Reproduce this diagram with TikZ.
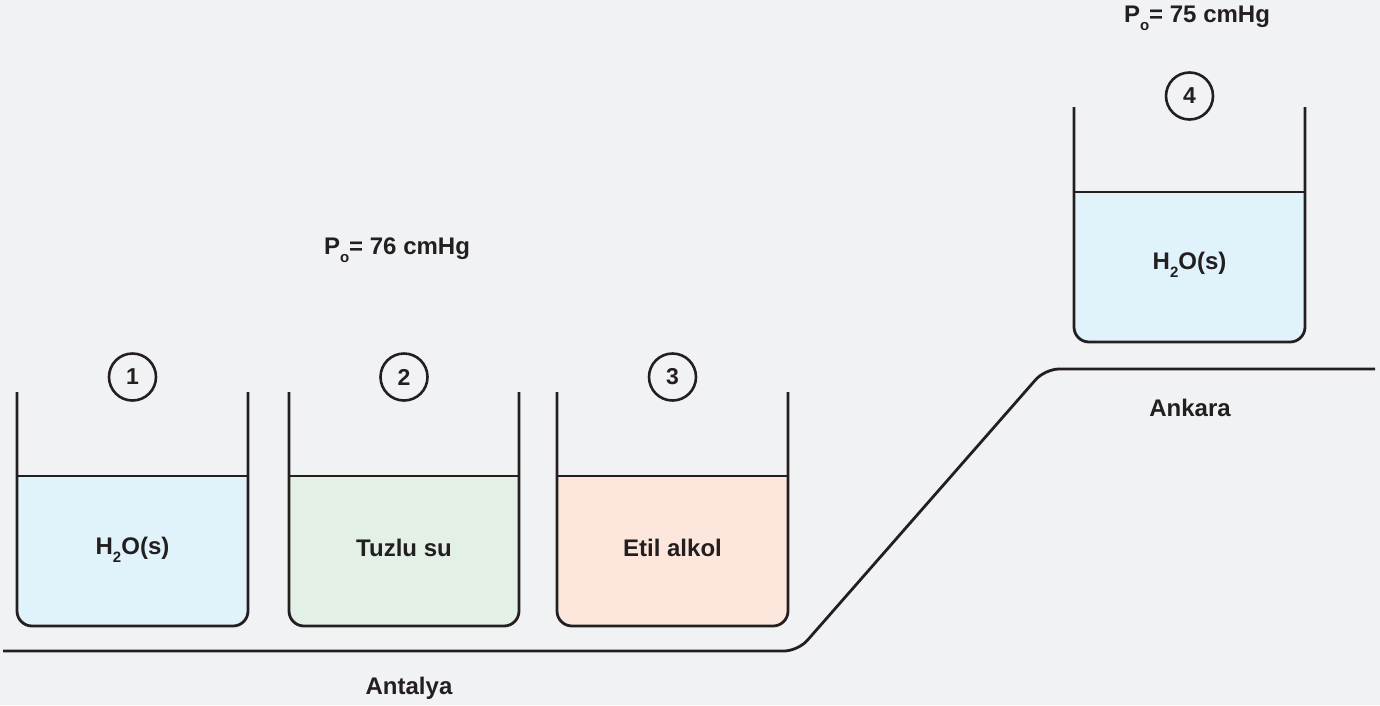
\documentclass[tikz,border=0pt]{standalone}
\usepackage{fontspec}
\setmainfont{Liberation Sans}
\definecolor{bg}{HTML}{F1F2F4}
\definecolor{lc}{HTML}{231F20}
\definecolor{waterc}{HTML}{E0F2FA}
\definecolor{saltc}{HTML}{E2F0E6}
\definecolor{alcc}{HTML}{FDE7DD}
\newcommand\subo{\raisebox{-8pt}{\fontsize{15}{15}\selectfont o}}
\newcommand\subtwo{\raisebox{-8pt}{\fontsize{15}{15}\selectfont 2}}
\newcommand\mybeaker[6]{%
  \fill[#6] (#1,#4) {[rounded corners=15] -- (#1,#5) -- (#2,#5)} -- (#2,#4) -- cycle;
  \draw[bline, rounded corners=15] (#1,#3) -- (#1,#5) -- (#2,#5) -- (#2,#3);
  \draw[bline] (#1,#4) -- (#2,#4);
}
\tikzset{
  bline/.style={draw=lc, line width=2.8pt},
  lbl/.style={font=\fontsize{24}{29}\selectfont\bfseries, text=lc, inner sep=0pt},
  num/.style={circle, draw=lc, line width=2.6pt, minimum size=47pt, inner sep=0pt, font=\fontsize{23}{27}\selectfont\bfseries, text=lc},
}
\begin{document}
\begin{tikzpicture}[x=1pt,y=-1pt]
\fill[bg] (0,0) rectangle (1380,705);
\useasboundingbox (0,0) rectangle (1380,705);

\mybeaker{17}{248}{392}{476}{626}{waterc}
\mybeaker{289}{519}{392}{476}{626}{saltc}
\mybeaker{557}{788}{392}{476}{626}{alcc}
\mybeaker{1074}{1305}{107}{192}{342}{waterc}

\node[num] (n1) at (132.5,377) {1};
\node[num] (n2) at (404,377) {2};
\node[num] (n3) at (672.5,377) {3};
\node[num] (n4) at (1189.5,96) {4};

\node[lbl] (l1) at (132.5,550) {H\subtwo O(s)};
\node[lbl] (l2) at (404,548) {Tuzlu su};
\node[lbl] (l3) at (672.5,548) {Etil alkol};
\node[lbl] (l4) at (1189.5,265) {H\subtwo O(s)};

\node[lbl] (p1) at (397,250) {P\subo= 76 cmHg};
\node[lbl] (p2) at (1197,18) {P\subo= 75 cmHg};

\draw[bline, rounded corners=14] (3,651) -- (798,651) -- (1045,369) -- (1375,369);

\node[lbl] (antalya) at (409,688) {Antalya};
\node[lbl] (ankara) at (1190,408) {Ankara};
\end{tikzpicture}
\end{document}
